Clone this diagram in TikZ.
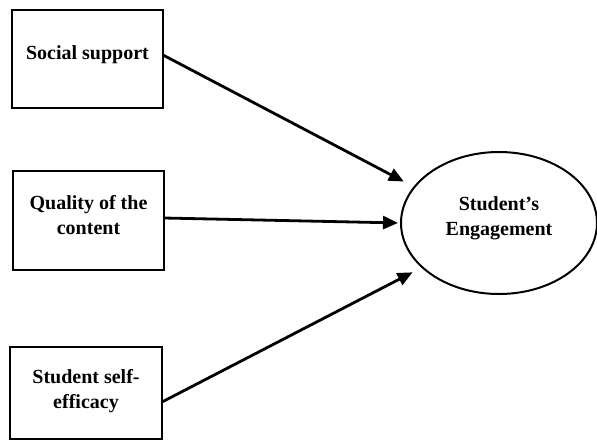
\documentclass[tikz,border=0pt]{standalone}
\usepackage{fontspec}
\setmainfont{Liberation Serif}
\usetikzlibrary{shapes.geometric,arrows.meta}

\begin{document}
\begin{tikzpicture}[x=1pt, y=-1pt,
  every node/.style={font=\fontsize{20}{25}\selectfont\bfseries, align=center, inner sep=0pt, outer sep=0pt},
  factor/.style={draw, line width=2pt},
  arr/.style={line width=2.8pt, -{Triangle[length=15pt,width=13pt]}}]
\useasboundingbox (0,0) rectangle (597,440);

\node[factor, minimum width=151pt, minimum height=98pt] (ss) at (87.5,59) {};
\node at (87.5,55) {Social support};
\node[factor, minimum width=151pt, minimum height=99pt] (qc) at (88.5,220.5) {};
\node at (88.5,215) {Quality of the\\content};
\node[factor, minimum width=152pt, minimum height=92pt] (se) at (86,393) {};
\node at (86,391) {Student self-\\efficacy};

\node[draw, ellipse, line width=2pt, minimum width=196pt, minimum height=142pt] (eng) at (499,223) {};
\node at (499,218) {Student’s\\Engagement};

\draw[arr, shorten >=12pt] ([yshift=4pt]ss.east) -- (eng.157);
\draw[arr, shorten >=3pt] ([yshift=2.5pt]qc.east) -- (eng.west);
\draw[arr, shorten >=11pt] ([yshift=-9pt]se.east) -- (eng.210);
\end{tikzpicture}
\end{document}
